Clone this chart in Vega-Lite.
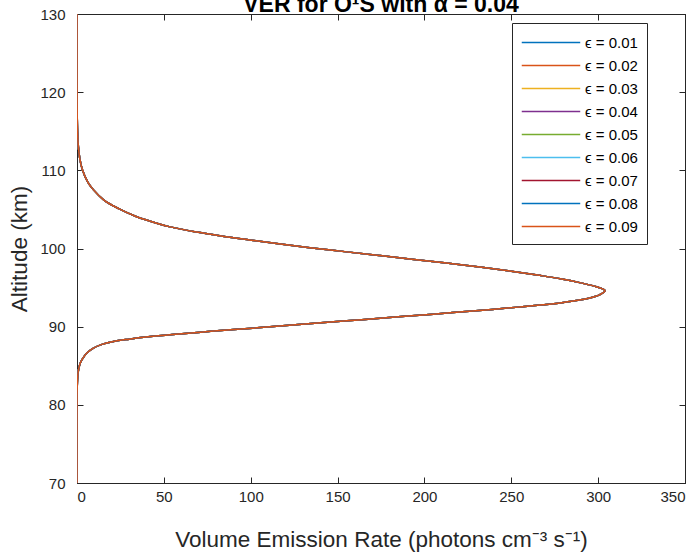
{
  "$schema": "https://vega.github.io/schema/vega-lite/v6.json",
  "width": 608,
  "height": 469,
  "autosize": "none",
  "padding": {"left": 77, "top": 14, "right": 14, "bottom": 69},
  "background": "white",
  "title": {
    "text": "VER for O¹S with α = 0.04",
    "fontSize": 23,
    "fontWeight": "bold",
    "font": "Liberation Sans",
    "color": "#000000",
    "baseline": "alphabetic",
    "offset": -28,
    "anchor": "middle"
  },
  "config": {
    "view": {"stroke": "#262626", "strokeWidth": 1},
    "font": "Liberation Sans",
    "axis": {
      "grid": false,
      "domainColor": "#262626",
      "tickColor": "#262626",
      "labelColor": "#262626",
      "titleColor": "#262626",
      "labelFontSize": 15,
      "titleFontSize": 22.5,
      "titleFontWeight": "normal",
      "tickSize": -6,
      "labelFont": "Liberation Sans",
      "titleFont": "Liberation Sans"
    }
  },
  "data": {
    "values": [
      {"a": 70, "e1": 0, "e2": 0, "e3": 0, "e4": 0, "e5": 0, "e6": 0, "e7": 0, "e8": 0, "e9": 0},
      {"a": 78, "e1": 0, "e2": 0, "e3": 0, "e4": 0, "e5": 0, "e6": 0, "e7": 0, "e8": 0, "e9": 0},
      {"a": 82, "e1": 0.1, "e2": 0.1, "e3": 0.1, "e4": 0.1, "e5": 0.1, "e6": 0.1, "e7": 0.1, "e8": 0.1, "e9": 0.1},
      {"a": 83.6, "e1": 0.4, "e2": 0.4, "e3": 0.4, "e4": 0.4, "e5": 0.4, "e6": 0.4, "e7": 0.4, "e8": 0.4, "e9": 0.4},
      {"a": 84.5, "e1": 0.9, "e2": 0.9, "e3": 0.9, "e4": 0.9, "e5": 0.9, "e6": 0.9, "e7": 0.9, "e8": 0.9, "e9": 0.9},
      {"a": 85.3, "e1": 1.8, "e2": 1.8, "e3": 1.8, "e4": 1.8, "e5": 1.8, "e6": 1.8, "e7": 1.8, "e8": 1.8, "e9": 1.8},
      {"a": 86, "e1": 3.5, "e2": 3.5, "e3": 3.5, "e4": 3.5, "e5": 3.5, "e6": 3.5, "e7": 3.5, "e8": 3.5, "e9": 3.5},
      {"a": 86.6, "e1": 5.5, "e2": 5.5, "e3": 5.5, "e4": 5.5, "e5": 5.5, "e6": 5.5, "e7": 5.5, "e8": 5.5, "e9": 5.5},
      {"a": 87.2, "e1": 9, "e2": 9, "e3": 9, "e4": 9, "e5": 9, "e6": 9, "e7": 9, "e8": 9, "e9": 9},
      {"a": 87.7, "e1": 14, "e2": 14, "e3": 14, "e4": 14, "e5": 14, "e6": 14, "e7": 14, "e8": 14, "e9": 14},
      {"a": 88.1, "e1": 21, "e2": 21, "e3": 21, "e4": 21, "e5": 21, "e6": 21, "e7": 21, "e8": 21, "e9": 21},
      {"a": 88.4, "e1": 30, "e2": 30, "e3": 30, "e4": 30, "e5": 30, "e6": 30, "e7": 30, "e8": 30, "e9": 30},
      {"a": 88.7, "e1": 41, "e2": 41, "e3": 41, "e4": 41, "e5": 41, "e6": 41, "e7": 41, "e8": 41, "e9": 41},
      {"a": 89, "e1": 55, "e2": 55, "e3": 55, "e4": 55, "e5": 55, "e6": 55, "e7": 55, "e8": 55, "e9": 55},
      {"a": 89.4, "e1": 77, "e2": 77, "e3": 77, "e4": 77, "e5": 77, "e6": 77, "e7": 77, "e8": 77, "e9": 77},
      {"a": 89.8, "e1": 101, "e2": 101, "e3": 101, "e4": 101, "e5": 101, "e6": 101, "e7": 101, "e8": 101, "e9": 101},
      {"a": 90.2, "e1": 124, "e2": 124, "e3": 124, "e4": 124, "e5": 124, "e6": 124, "e7": 124, "e8": 124, "e9": 124},
      {"a": 90.6, "e1": 146, "e2": 146, "e3": 146, "e4": 146, "e5": 146, "e6": 146, "e7": 146, "e8": 146, "e9": 146},
      {"a": 90.9, "e1": 164, "e2": 164, "e3": 164, "e4": 164, "e5": 164, "e6": 164, "e7": 164, "e8": 164, "e9": 164},
      {"a": 91.27, "e1": 185, "e2": 185, "e3": 185, "e4": 185, "e5": 185, "e6": 185, "e7": 185, "e8": 185, "e9": 185},
      {"a": 91.6, "e1": 205, "e2": 205, "e3": 205, "e4": 205, "e5": 205, "e6": 205, "e7": 205, "e8": 205, "e9": 205},
      {"a": 91.9, "e1": 222, "e2": 222, "e3": 222, "e4": 222, "e5": 222, "e6": 222, "e7": 222, "e8": 222, "e9": 222},
      {"a": 92.2, "e1": 239, "e2": 239, "e3": 239, "e4": 239, "e5": 239, "e6": 239, "e7": 239, "e8": 239, "e9": 239},
      {"a": 92.5, "e1": 254, "e2": 254, "e3": 254, "e4": 254, "e5": 254, "e6": 254, "e7": 254, "e8": 254, "e9": 254},
      {"a": 92.8, "e1": 268, "e2": 268, "e3": 268, "e4": 268, "e5": 268, "e6": 268, "e7": 268, "e8": 268, "e9": 268},
      {"a": 93.1, "e1": 280, "e2": 280, "e3": 280, "e4": 280, "e5": 280, "e6": 280, "e7": 280, "e8": 280, "e9": 280},
      {"a": 93.6, "e1": 294, "e2": 294, "e3": 294, "e4": 294, "e5": 294, "e6": 294, "e7": 294, "e8": 294, "e9": 294},
      {"a": 94.1, "e1": 301, "e2": 301, "e3": 301, "e4": 301, "e5": 301, "e6": 301, "e7": 301, "e8": 301, "e9": 301},
      {"a": 94.6, "e1": 304, "e2": 304, "e3": 304, "e4": 304, "e5": 304, "e6": 304, "e7": 304, "e8": 304, "e9": 304},
      {"a": 95.1, "e1": 299, "e2": 299, "e3": 299, "e4": 299, "e5": 299, "e6": 299, "e7": 299, "e8": 299, "e9": 299},
      {"a": 95.6, "e1": 290, "e2": 290, "e3": 290, "e4": 290, "e5": 290, "e6": 290, "e7": 290, "e8": 290, "e9": 290},
      {"a": 96.1, "e1": 279, "e2": 279, "e3": 279, "e4": 279, "e5": 279, "e6": 279, "e7": 279, "e8": 279, "e9": 279},
      {"a": 96.6, "e1": 265, "e2": 265, "e3": 265, "e4": 265, "e5": 265, "e6": 265, "e7": 265, "e8": 265, "e9": 265},
      {"a": 97.1, "e1": 250, "e2": 250, "e3": 250, "e4": 250, "e5": 250, "e6": 250, "e7": 250, "e8": 250, "e9": 250},
      {"a": 97.6, "e1": 233, "e2": 233, "e3": 233, "e4": 233, "e5": 233, "e6": 233, "e7": 233, "e8": 233, "e9": 233},
      {"a": 98.1, "e1": 214, "e2": 214, "e3": 214, "e4": 214, "e5": 214, "e6": 214, "e7": 214, "e8": 214, "e9": 214},
      {"a": 98.6, "e1": 194, "e2": 194, "e3": 194, "e4": 194, "e5": 194, "e6": 194, "e7": 194, "e8": 194, "e9": 194},
      {"a": 99.1, "e1": 174, "e2": 174, "e3": 174, "e4": 174, "e5": 174, "e6": 174, "e7": 174, "e8": 174, "e9": 174},
      {"a": 99.6, "e1": 154, "e2": 154, "e3": 154, "e4": 154, "e5": 154, "e6": 154, "e7": 154, "e8": 154, "e9": 154},
      {"a": 100.1, "e1": 134, "e2": 134, "e3": 134, "e4": 134, "e5": 134, "e6": 134, "e7": 134, "e8": 134, "e9": 134},
      {"a": 100.6, "e1": 116, "e2": 116, "e3": 116, "e4": 116, "e5": 116, "e6": 116, "e7": 116, "e8": 116, "e9": 116},
      {"a": 101.1, "e1": 99, "e2": 99, "e3": 99, "e4": 99, "e5": 99, "e6": 99, "e7": 99, "e8": 99, "e9": 99},
      {"a": 101.6, "e1": 83, "e2": 83, "e3": 83, "e4": 83, "e5": 83, "e6": 83, "e7": 83, "e8": 83, "e9": 83},
      {"a": 102.1, "e1": 69, "e2": 69, "e3": 69, "e4": 69, "e5": 69, "e6": 69, "e7": 69, "e8": 69, "e9": 69},
      {"a": 102.8, "e1": 53, "e2": 53, "e3": 53, "e4": 53, "e5": 53, "e6": 53, "e7": 53, "e8": 53, "e9": 53},
      {"a": 103.5, "e1": 42, "e2": 42, "e3": 42, "e4": 42, "e5": 42, "e6": 42, "e7": 42, "e8": 42, "e9": 42},
      {"a": 104.1, "e1": 34, "e2": 34, "e3": 34, "e4": 34, "e5": 34, "e6": 34, "e7": 34, "e8": 34, "e9": 34},
      {"a": 105.1, "e1": 24, "e2": 24, "e3": 24, "e4": 24, "e5": 24, "e6": 24, "e7": 24, "e8": 24, "e9": 24},
      {"a": 106.2, "e1": 15.5, "e2": 15.5, "e3": 15.5, "e4": 15.5, "e5": 15.5, "e6": 15.5, "e7": 15.5, "e8": 15.5, "e9": 15.5},
      {"a": 107.5, "e1": 9.5, "e2": 9.5, "e3": 9.5, "e4": 9.5, "e5": 9.5, "e6": 9.5, "e7": 9.5, "e8": 9.5, "e9": 9.5},
      {"a": 108.5, "e1": 6.2, "e2": 6.2, "e3": 6.2, "e4": 6.2, "e5": 6.2, "e6": 6.2, "e7": 6.2, "e8": 6.2, "e9": 6.2},
      {"a": 110, "e1": 3.2, "e2": 3.2, "e3": 3.2, "e4": 3.2, "e5": 3.2, "e6": 3.2, "e7": 3.2, "e8": 3.2, "e9": 3.2},
      {"a": 111.5, "e1": 1.6, "e2": 1.6, "e3": 1.6, "e4": 1.6, "e5": 1.6, "e6": 1.6, "e7": 1.6, "e8": 1.6, "e9": 1.6},
      {"a": 113, "e1": 0.8, "e2": 0.8, "e3": 0.8, "e4": 0.8, "e5": 0.8, "e6": 0.8, "e7": 0.8, "e8": 0.8, "e9": 0.8},
      {"a": 115, "e1": 0.3, "e2": 0.3, "e3": 0.3, "e4": 0.3, "e5": 0.3, "e6": 0.3, "e7": 0.3, "e8": 0.3, "e9": 0.3},
      {"a": 118, "e1": 0.1, "e2": 0.1, "e3": 0.1, "e4": 0.1, "e5": 0.1, "e6": 0.1, "e7": 0.1, "e8": 0.1, "e9": 0.1},
      {"a": 122, "e1": 0.03, "e2": 0.03, "e3": 0.03, "e4": 0.03, "e5": 0.03, "e6": 0.03, "e7": 0.03, "e8": 0.03, "e9": 0.03},
      {"a": 130, "e1": 0, "e2": 0, "e3": 0, "e4": 0, "e5": 0, "e6": 0, "e7": 0, "e8": 0, "e9": 0}
    ]
  },
  "transform": [
    {"fold": ["e1", "e2", "e3", "e4", "e5", "e6", "e7", "e8", "e9"], "as": ["s", "v"]}
  ],
  "layer": [
    {
      "mark": {"type": "line", "strokeWidth": 1.5, "clip": true, "interpolate": "catmull-rom"},
      "encoding": {
        "x": {
          "field": "v", "type": "quantitative",
          "scale": {"domain": [0, 350], "nice": false, "zero": false},
          "axis": {"values": [0, 50, 100, 150, 200, 250, 300, 350], "title": "Volume Emission Rate (photons cm⁻³ s⁻¹)", "labelPadding": 12, "titlePadding": 24}
        },
        "y": {
          "field": "a", "type": "quantitative",
          "scale": {"domain": [70, 130], "nice": false, "zero": false},
          "axis": {"values": [70, 80, 90, 100, 110, 120, 130], "title": "Altitude (km)", "labelPadding": 18, "titlePadding": 8}
        },
        "order": {"field": "a", "type": "quantitative"},
        "color": {
          "field": "s", "type": "nominal",
          "scale": {
            "domain": ["e1", "e2", "e3", "e4", "e5", "e6", "e7", "e8", "e9"],
            "range": ["#0072BD", "#D95319", "#EDB120", "#7E2F8E", "#77AC30", "#4DBEEE", "#A2142F", "#0072BD", "#D95319"]
          },
          "legend": {
            "orient": "none",
            "legendX": 435,
            "legendY": 9,
            "title": null,
            "symbolType": "M-1,0H5",
            "symbolSize": 380,
            "symbolStrokeWidth": 1.5,
            "labelFontSize": 15,
            "labelColor": "#000000",
            "labelExpr": "'ϵ = 0.0' + slice(datum.label, 1)",
            "strokeColor": "#262626",
            "fillColor": "white",
            "padding": 9,
            "rowPadding": 4,
            "labelOffset": 43
          }
        }
      }
    },
    {
      "mark": {"type": "line", "opacity": 0},
      "encoding": {
        "x": {"field": "v", "type": "quantitative", "axis": {"orient": "top", "values": [0, 50, 100, 150, 200, 250, 300, 350], "labels": false, "title": null, "minExtent": 0, "maxExtent": 0}},
        "y": {"field": "a", "type": "quantitative", "axis": {"orient": "right", "values": [70, 80, 90, 100, 110, 120, 130], "labels": false, "title": null, "minExtent": 0, "maxExtent": 0}}
      }
    }
  ],
  "resolve": {"axis": {"x": "independent", "y": "independent"}}
}
